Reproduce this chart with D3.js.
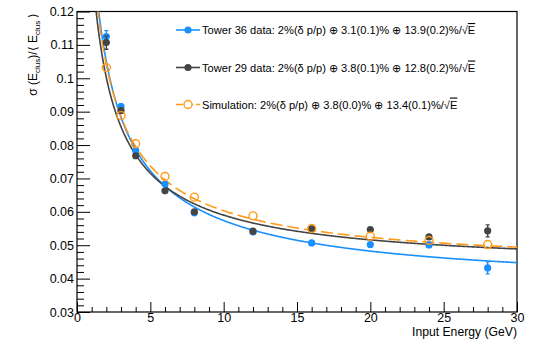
<!doctype html>
<html>
  <head>
    <meta charset='utf-8'>
    <script src="https://d3js.org/d3.v7.min.js"></script>
    <style>
      body { margin: 0; background: #fff; }
      text { font-family: "Liberation Sans", Helvetica, Arial, sans-serif; }
    </style>
  </head>

  <body>

  <svg width="533" height="339"></svg>

  <script>
    // beam energies (GeV)
    const energies = [2, 3, 4, 6, 8, 12, 16, 20, 24, 28];

    // sigma(E)/<E> values
    const tower36 = [0.1125, 0.0915, 0.0784, 0.0683, 0.0597, 0.0540, 0.0507, 0.0502, 0.0501, 0.0432];
    const tower36Err = [0.0018, 0.0008, 0.0006, 0.0005, 0.0004, 0.0004, 0.0004, 0.0005, 0.0006, 0.0018];
    const tower29 = [0.1107, 0.0903, 0.0768, 0.0663, 0.0600, 0.0542, 0.0549, 0.0547, 0.0525, 0.0543];
    const tower29Err = [0.0020, 0.0008, 0.0006, 0.0005, 0.0004, 0.0004, 0.0007, 0.0006, 0.0007, 0.0018];
    const simulation = [0.1032, 0.0888, 0.0804, 0.0706, 0.0644, 0.0588, 0.0550, 0.0527, 0.0514, 0.0502];

    // fit parameters: momentum spread, constant term, stochastic term
    const fitMomentum = [0.02, 0.02, 0.02];
    const fitConstant = [0.031, 0.038, 0.038];
    const fitStochastic = [0.139, 0.128, 0.134];

    const seriesNames = ["Tower 36 data", "Tower 29 data", "Simulation"];
    const fitLabels = [
      ["2%(δ p/p) ⊕ 3.1(0.1)% ⊕ 13.9(0.2)%/√", "E"],
      ["2%(δ p/p) ⊕ 3.8(0.1)% ⊕ 12.8(0.2)%/√", "E"],
      ["2%(δ p/p) ⊕ 3.8(0.0)% ⊕ 13.4(0.1)%/√", "E"]
    ];
    const colors = ["#1a8fff", "#444444", "#ff9a1a"];

    const xTicks = [0, 5, 10, 15, 20, 25, 30];
    const yTicks = [0.03, 0.04, 0.05, 0.06, 0.07, 0.08, 0.09, 0.1, 0.11, 0.12];

    const margin = {top: 11.5, right: 16, bottom: 27, left: 77};
    const width = 533, height = 339;

    const svg = d3.select("svg");

    const x = d3.scaleLinear().domain([0, 30]).range([margin.left, width - margin.right]);
    const y = d3.scaleLinear().domain([0.03, 0.12]).range([height - margin.bottom, margin.top]);

    svg.append("clipPath")
      .attr("id", "frame")
      .append("rect")
        .attr("x", x(0))
        .attr("y", y(0.12))
        .attr("width", x(30) - x(0))
        .attr("height", y(0.03) - y(0.12));

    // axes, ROOT style: ticks pointing inside the frame
    const xMinor = d3.range(0, 30.001, 1).filter((v) => v % 5 !== 0);
    const yMinor = d3.range(0.03, 0.1201, 0.002).filter((_, i) => i % 5 !== 0);

    const xAxis = svg.append("g").attr("transform", `translate(0,${y(0.03)})`)
      .call(d3.axisBottom(x).tickValues(xTicks).tickSize(-10).tickPadding(1).tickFormat(d3.format("d")));
    xAxis.append("g")
      .call(d3.axisBottom(x).tickValues(xMinor).tickSize(-5).tickFormat(""));

    const yAxis = svg.append("g").attr("transform", `translate(${x(0)},0)`)
      .call(d3.axisLeft(y).tickValues(yTicks).tickSize(-13).tickPadding(3).tickFormat((d) => d3.format("")(+d.toFixed(2))));
    yAxis.append("g")
      .call(d3.axisLeft(y).tickValues(yMinor).tickSize(-7).tickFormat(""));

    svg.selectAll(".domain").remove();
    svg.selectAll(".tick line").attr("stroke", "#000").attr("stroke-width", 1);
    svg.selectAll(".tick text")
      .attr("fill", "#000")
      .style("font-size", "12.5px");

    svg.append("rect")
      .attr("x", x(0))
      .attr("y", y(0.12))
      .attr("width", x(30) - x(0))
      .attr("height", y(0.03) - y(0.12))
      .attr("fill", "none")
      .attr("stroke", "#000")
      .attr("stroke-width", 1.2);

    // axis titles
    svg.append("text")
      .attr("x", x(30))
      .attr("y", 336)
      .attr("text-anchor", "end")
      .style("font-size", "12.2px")
      .text("Input Energy (GeV)");

    const yTitle = svg.append("text")
      .attr("transform", `translate(37,${margin.top + 1}) rotate(-90)`)
      .attr("text-anchor", "end")
      .style("font-size", "12px");
    yTitle.append("tspan").text("σ (E");
    yTitle.append("tspan").attr("dy", 3).style("font-size", "8px").text("clus");
    yTitle.append("tspan").attr("dy", -3).text(")/⟨ E");
    yTitle.append("tspan").attr("dy", 3).style("font-size", "8px").text("clus");
    yTitle.append("tspan").attr("dy", -3).text(" ⟩");

    // fit curves
    const plot = svg.append("g").attr("clip-path", "url(#frame)");
    const fitValue = (k, e) => Math.sqrt(
      fitMomentum[k] ** 2 + fitConstant[k] ** 2 + fitStochastic[k] ** 2 / e);
    const curveEnergies = d3.range(0.8, 30.001, 0.05);
    const line = d3.line().x((d) => x(d[0])).y((d) => y(d[1]));

    [0, 1, 2].forEach((k) => {
      plot.append("path")
        .attr("d", line(curveEnergies.map((e) => [e, Math.min(fitValue(k, e), 0.13)])))
        .attr("fill", "none")
        .attr("stroke", colors[k])
        .attr("stroke-width", 1.6)
        .attr("stroke-dasharray", k === 2 ? "12,5" : null);
    });

    // data points
    const dataSets = [
      {values: tower36, errors: tower36Err},
      {values: tower29, errors: tower29Err}
    ];

    dataSets.forEach((ds, k) => {
      const pts = energies.map((e, i) => ({e: e, v: ds.values[i], err: ds.errors[i]}));
      const g = plot.append("g");
      g.selectAll(".err")
        .data(pts)
        .enter()
          .append("path")
            .attr("class", "err")
            .attr("d", (d) => `M${x(d.e)},${y(d.v - d.err)}V${y(d.v + d.err)}` +
              `M${x(d.e) - 2},${y(d.v - d.err)}h4M${x(d.e) - 2},${y(d.v + d.err)}h4`)
            .attr("stroke", colors[k])
            .attr("stroke-width", 1.3)
            .attr("fill", "none");
      g.selectAll(".pt")
        .data(pts)
        .enter()
          .append("circle")
            .attr("class", "pt")
            .attr("cx", (d) => x(d.e))
            .attr("cy", (d) => y(d.v))
            .attr("r", 3.6)
            .attr("fill", colors[k]);
    });

    plot.append("g").selectAll("circle")
      .data(energies.map((e, i) => ({e: e, v: simulation[i]})))
      .enter()
        .append("circle")
          .attr("cx", (d) => x(d.e))
          .attr("cy", (d) => y(d.v))
          .attr("r", 4)
          .attr("fill", "none")
          .attr("stroke", colors[2])
          .attr("stroke-width", 1.4);

    // legend
    const legendY = [30, 67.5, 104.5];
    const legend = svg.append("g");
    seriesNames.forEach((name, k) => {
      const row = legend.append("g").attr("transform", `translate(0,${legendY[k]})`);
      row.append("line")
        .attr("x1", 176).attr("x2", 200)
        .attr("stroke", colors[k])
        .attr("stroke-width", 1.6)
        .attr("stroke-dasharray", k === 2 ? "7,3" : null);
      row.append("circle")
        .attr("cx", 188)
        .attr("r", k === 2 ? 4 : 3.6)
        .attr("fill", k === 2 ? "#fff" : colors[k])
        .attr("stroke", k === 2 ? colors[k] : "none")
        .attr("stroke-width", 1.4);
      const t = row.append("text")
        .attr("x", 202)
        .attr("dy", "0.36em")
        .style("font-size", "11.1px");
      t.append("tspan").text(`${name}: ${fitLabels[k][0]}`);
      t.append("tspan").style("text-decoration", "overline").text(fitLabels[k][1]);
    });
  </script>
  </body>
</html>
